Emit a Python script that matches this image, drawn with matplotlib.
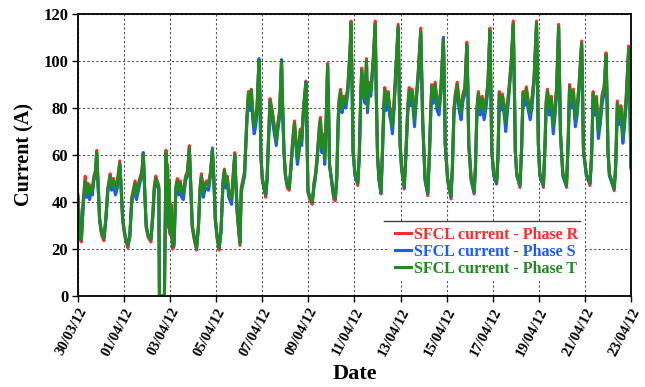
import matplotlib
matplotlib.use("Agg")
import matplotlib.pyplot as plt
import matplotlib.dates as mdates
import pandas as pd

plt.rcParams.update({
    "font.family": "serif",
    "font.serif": ["Liberation Serif", "DejaVu Serif"],
    "font.weight": "bold",
    "axes.labelweight": "bold",
})

# hours since 30/03/12 00:00, one row per day
hours = [
    0, 1.5, 2.5, 3.5, 5.5, 7.5, 9, 10.5, 12, 13.5, 15, 16.5, 18, 19.5, 21, 22.5,
    24.5, 27, 29, 31, 33.5, 35, 37, 39, 41, 43.5, 45, 46.5,
    48.5, 50, 52, 54, 56, 58, 59.5, 61, 63, 65, 66.5, 68, 69.5, 71,
    73, 76, 78, 79.5, 81, 82.5, 84.2, 84.8, 87, 90, 91.7, 92.5, 93.3, 94.2, 95,
    96, 97, 98.5, 100, 101, 102, 103.5, 105, 106.5, 108, 109.7, 112, 114, 116, 117.5, 119,
    121.5, 123.5, 125.5, 127, 128.5, 130.6, 132, 134, 136, 138, 140, 141.5, 143,
    145, 147, 149, 151, 152.5, 154, 155.5, 157, 160, 161.5, 163.3, 164.5, 166,
    168.7, 170, 171.5, 173.5, 174.5, 176, 177.5, 179, 180.5, 182, 183.5, 185, 186.5, 188.5, 189.5, 190.5,
    192, 195.5, 197, 198, 200, 201.5, 203, 205, 206.5, 208, 210, 212, 213.2, 214.5,
    216, 218, 220, 222, 223.5, 225.5, 227, 228.5, 230, 231.5, 233, 235, 237.4, 238.5, 239.5,
    241.5, 244, 246, 247, 249, 251.5, 252.5, 254, 255.5, 257, 258.5, 260, 261, 262,
    264, 266.5, 268, 269.5, 271, 272, 273.5, 275, 277, 279, 281, 283.5, 284.4, 285.5, 286.5,
    288.5, 291.4, 293, 294.5, 295.5, 297, 299, 300.5, 301.5, 303, 305, 307.5, 309.6, 310.5, 312,
    313.5, 315.6, 317, 318.5, 319.5, 321, 323, 324.5, 326, 327.5, 329, 331, 333.5, 334.5, 335.5,
    337, 339.8, 341.5, 343.5, 345, 346.5, 348, 349.5, 350.5, 352, 354, 357, 358, 359,
    361.5, 364.3, 366, 367.5, 368.5, 370, 372, 374, 376, 378, 380.6, 381.6, 382.5,
    385, 388.5, 390, 391.6, 393, 395, 397, 399, 401, 403, 405, 406, 407,
    409.5, 412.6, 414, 415.5, 417, 419, 421, 423, 425, 427, 429, 430, 431,
    433, 436, 437.5, 438.8, 440, 442, 444, 445.5, 447, 449, 451.4, 453.4, 454.5, 455.5,
    457, 460.3, 462, 463.5, 465, 467, 469, 471, 473, 475, 477.6, 478.5, 479.5,
    481, 484.8, 486.5, 487.6, 489, 491, 493, 495, 497, 498.5, 500.6, 501.5, 502.5,
    505, 508.8, 510.5, 512, 514, 516, 518, 520, 522, 524.6, 525.5, 526.5,
    529.5, 533.3, 535, 536.5, 538, 540, 542, 544, 546, 548, 550, 551, 552,
    553.5, 558.5, 560, 561.8, 563.5, 565.5, 567.5, 569, 571, 573.6, 574.5, 576,
]

phase_r = [
    43, 30, 24, 23, 41, 51, 45, 48, 44, 47, 46, 51, 53, 62, 47, 32,
    26, 23.5, 33, 46, 52, 48, 50, 46, 49, 57.5, 46, 32,
    26, 23, 20.5, 26, 42, 46, 49, 44, 48, 51, 53, 61, 45, 29,
    25, 23, 36, 47, 51, 49, 47, 0, 0, 0, 62, 31, 56, 29, 49,
    26, 39, 20, 21, 36, 47, 50, 46, 49, 45, 44, 51, 53, 64, 47, 29,
    23, 19.5, 31, 46, 52, 45, 48, 49, 48, 53, 62, 50, 32,
    24, 19.5, 29, 49, 54, 49, 51, 45, 42, 51, 61, 48, 34,
    21.5, 46, 49, 53, 63, 77, 87, 83, 88, 79, 73, 76, 81, 100, 85, 59,
    50, 42, 51, 63, 84, 81, 77, 71, 67, 73, 79, 100.5, 80, 61,
    52, 46, 45, 57, 66, 74.5, 67, 59, 63, 71, 67, 81, 91.5, 70, 44,
    41, 39, 49, 51, 59, 73, 76, 64, 69, 59, 76, 99, 80, 55,
    50, 41, 40.5, 51, 76, 84, 88, 81, 85, 83, 89, 106, 117, 90, 61,
    52, 47, 61, 86, 97, 89, 85, 101, 81, 91, 88, 101, 117, 90, 59,
    50, 43.4, 61, 81, 88.7, 83, 87, 81, 78, 73, 81, 96, 115.6, 90, 64,
    55, 45.5, 61, 81, 88.7, 85, 88, 81, 76, 84, 93, 114, 95, 74,
    50, 42.7, 61, 81, 90, 86, 91, 83, 81, 89, 110, 90, 64,
    50, 41.3, 56, 80, 86, 91, 83, 79, 86, 89, 108, 90, 64,
    50, 43.4, 56, 80, 87, 81, 85, 79, 84, 91, 114, 90, 61,
    52, 47.6, 61, 87, 83, 86, 81, 74.5, 81, 89, 101, 117, 90, 61,
    52, 46.2, 63, 87, 85, 89, 83, 79, 85, 93, 117, 95, 64,
    52, 46.2, 66, 83, 88, 81, 85, 73, 81, 89, 115.6, 95, 69,
    52, 46.2, 66, 90, 84, 88, 76, 81, 91, 108.5, 88, 61,
    52, 47, 61, 87, 81, 85, 71, 77, 86, 89, 103.5, 85, 61,
    52, 44.8, 56, 83, 77, 81, 69, 75, 85, 106.4, 90, 54,
]

phase_s = [
    41, 31, 25, 24, 39, 47, 42, 45, 41, 44, 43, 49, 51, 60, 46, 33,
    27, 24.5, 32, 44, 50, 45, 47, 43, 46, 56, 45, 33,
    27, 24, 21.5, 25, 40, 43, 47, 41, 45, 49, 51, 61, 44, 30,
    26, 24, 34, 45, 49, 47, 45, 0, 0, 0, 60, 32, 54, 30, 47,
    27, 37, 21, 22, 34, 45, 47, 43, 46, 42, 41, 49, 51, 62, 46, 30,
    24, 20.5, 29, 44, 50, 42, 45, 46, 45, 51, 63, 49, 33,
    25, 20.5, 27, 47, 52, 46, 48, 42, 39, 49, 60, 47, 35,
    22.5, 44, 47, 51, 61, 75, 84, 79, 85, 75, 69, 72, 78, 101, 84, 60,
    49, 43, 49, 61, 81, 78, 73, 68, 64, 70, 76, 100.5, 79, 62,
    51, 47, 46, 55, 64, 72, 64, 56, 60, 68, 64, 79, 91, 69, 45,
    42, 40, 47, 49, 57, 70, 73, 61, 66, 56, 74, 98, 79, 56,
    49, 42, 41.5, 49, 73, 81, 85, 78, 82, 80, 86, 104, 115, 89, 62,
    51, 48, 59, 83, 94, 86, 82, 99, 78, 88, 85, 99, 115, 89, 60,
    49, 44, 59, 78, 86, 79, 84, 77, 74, 69, 78, 94, 114, 89, 65,
    54, 46, 59, 78, 86, 81, 85, 77, 72, 81, 91, 112, 94, 75,
    49, 43.5, 59, 78, 87, 82, 88, 79, 77, 86, 110, 89, 65,
    49, 42, 54, 77, 83, 88, 79, 75, 83, 86, 106, 89, 65,
    49, 44, 54, 77, 84, 77, 81, 75, 80, 88, 112, 89, 62,
    51, 48, 59, 84, 79, 82, 77, 70, 77, 86, 99, 115, 89, 62,
    51, 47, 61, 84, 81, 85, 79, 75, 81, 90, 115, 94, 65,
    51, 47, 64, 80, 85, 77, 81, 69, 77, 86, 114, 94, 70,
    51, 47, 64, 87, 80, 84, 72, 77, 88, 107, 87, 62,
    51, 48, 59, 84, 77, 81, 67, 73, 82, 86, 102, 84, 62,
    51, 45.5, 54, 80, 73, 77, 65, 71, 81, 105, 89, 55,
]

phase_t = [
    42, 30, 25, 24, 40, 49, 44, 47, 43, 46, 45, 50, 52, 61, 47, 33,
    27, 24.7, 33, 45, 51, 47, 49, 45, 48, 56.5, 46, 33,
    27, 24, 21.7, 26, 41, 45, 48, 43, 47, 50, 52, 60, 45, 30,
    26, 24, 35, 46, 50, 48, 46, 0, 0, 0, 61, 32, 55, 30, 48,
    27, 38, 21, 22, 35, 46, 49, 45, 48, 44, 43, 50, 52, 63, 47, 30,
    24, 20.4, 30, 45, 51, 44, 47, 48, 47, 52, 62, 50, 33,
    25, 20.4, 28, 48, 53.6, 48, 50, 44, 41, 50, 60, 48, 35,
    22.5, 45, 48, 52, 62, 76, 86, 82, 87.7, 78, 72, 75, 80, 100, 85, 60,
    50, 43, 50, 62, 83, 80, 76, 70, 66, 72, 78, 99.7, 80, 62,
    52, 47, 45.8, 56, 65, 73.5, 66, 58, 62, 70, 66, 80, 90.5, 70, 45,
    42, 40, 48, 50, 58, 72, 75, 63, 68, 58, 75, 98, 80, 56,
    50, 42, 41.6, 50, 75, 83, 87, 80, 84, 82, 88, 105, 116, 90, 62,
    52, 48, 60, 85, 96, 88, 84, 100, 80, 90, 87, 100, 115.7, 90, 60,
    50, 44.4, 60, 80, 87.7, 82, 86, 80, 77, 72, 80, 95, 114.6, 90, 65,
    55, 46.5, 60, 80, 87.7, 84, 87, 80, 75, 83, 92, 112.5, 95, 75,
    50, 43.7, 60, 80, 89, 85, 90, 82, 80, 88, 109, 90, 65,
    50, 42.3, 55, 79, 85, 90, 82, 78, 85, 88, 106.8, 90, 65,
    50, 44.4, 55, 79, 86, 80, 84, 78, 83, 90, 113, 90, 62,
    52, 48.6, 60, 86, 82, 85, 80, 73.5, 80, 88, 100, 115.7, 90, 62,
    52, 47.2, 62, 86, 84, 88, 82, 78, 84, 92, 116, 95, 65,
    52, 47.2, 65, 82, 87, 80, 84, 72, 80, 88, 114.6, 95, 70,
    52, 47.2, 65, 89, 83, 87, 75, 80, 90, 107.5, 88, 62,
    52, 48, 60, 86, 80, 84, 70, 76, 85, 88, 102.5, 85, 62,
    52, 45.8, 55, 82, 76, 80, 68, 74, 84, 105.4, 90, 55,
]

series_labels = ["SFCL current - Phase R", "SFCL current - Phase S", "SFCL current - Phase T"]
series_colors = ["#ff2b2b", "#1a5cff", "#1e8c1e"]

start = pd.Timestamp("2012-03-30")
times = start + pd.to_timedelta(hours, unit="h")

fig = plt.figure(figsize=(6.45, 3.87), dpi=100)
ax = fig.add_axes([78 / 645, 1 - 296 / 387, 553 / 645, 282 / 387])

for vals, lab, col in zip([phase_r, phase_s, phase_t], series_labels, series_colors):
    ax.plot(times, vals, color=col, lw=2.2, label=lab, solid_joinstyle="round")

ax.set_xlim(start, pd.Timestamp("2012-04-23"))
ax.set_ylim(0, 120)
ax.set_yticks(range(0, 121, 20))
ax.xaxis.set_major_locator(mdates.DayLocator(interval=2))
ax.xaxis.set_major_formatter(mdates.DateFormatter("%d/%m/%y"))

for lab in ax.get_xticklabels():
    lab.set_rotation(62)
    lab.set_ha("right")
    lab.set_rotation_mode("anchor")
    lab.set_fontsize(10.5)
    lab.set_fontweight("bold")
for lab in ax.get_yticklabels():
    lab.set_fontsize(12)
    lab.set_fontweight("bold")

ax.tick_params(axis="both", direction="out", length=4, width=1, pad=3)
ax.grid(True, color="#555555", linestyle=(0, (2, 2)), linewidth=0.8)
for spine in ax.spines.values():
    spine.set_color("black")
    spine.set_linewidth(1.3)

ax.set_xlabel("Date", fontsize=16, fontweight="bold", labelpad=4)
ax.set_ylabel("Current (A)", fontsize=14.5, fontweight="bold", labelpad=6)

leg = ax.legend(loc="upper left", bbox_to_anchor=(0.565, 0.262), frameon=True,
                fontsize=11.5, handlelength=1.0, handletextpad=0.15,
                labelspacing=0.05, borderaxespad=0, borderpad=0.3)
leg.get_frame().set_facecolor("white")
leg.get_frame().set_edgecolor("none")
leg.get_frame().set_alpha(1)
leg.get_frame().set_boxstyle("square", pad=0)
for txt, col in zip(leg.get_texts(), series_colors):
    txt.set_color(col)
    txt.set_fontweight("bold")
ax.plot([0.553, 0.908], [0.266, 0.266], transform=ax.transAxes,
        color="#444444", lw=1, zorder=6)

fig.savefig("out.png", dpi=100)
